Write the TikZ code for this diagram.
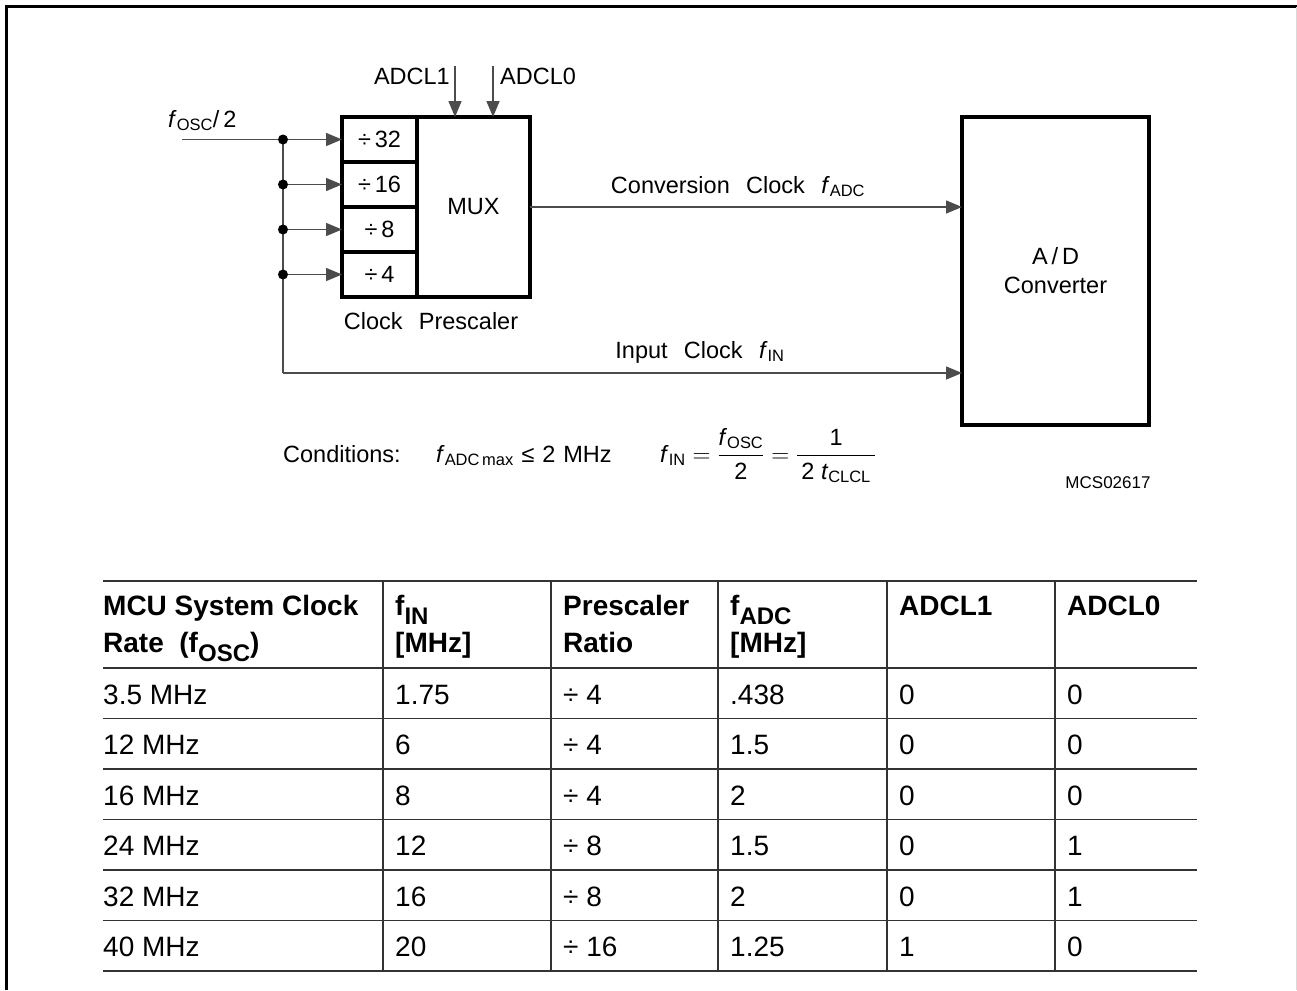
\documentclass[tikz,border=0pt]{standalone}
\usepackage{fontspec}
\usepackage{amsmath}
\setmainfont{Liberation Sans}
\newfontfamily\cadfont[WordSpace=2.5]{Liberation Sans}
\usetikzlibrary{positioning,arrows.meta,calc}

\newcommand{\cadsize}{\cadfont\fontsize{23.5}{29}\selectfont}
\newcommand{\tabsize}{\fontsize{28}{32}\selectfont}
\newcommand{\sig}[2]{\textit{#1}\textsubscript{#2}}
\newcommand{\tsub}[1]{\raisebox{-9pt}{\fontsize{24}{24}\selectfont #1}}

\begin{document}
\begin{tikzpicture}[x=1pt,y=-1pt,
    every node/.style={inner sep=0pt},
    thin line/.style={line width=1.5pt,black!70},
    sig/.style={thin line,-{Triangle[length=16pt,width=13pt]}},
    blockline/.style={draw,line width=4pt,outer sep=0pt},
    divcell/.style={blockline,minimum width=75pt,minimum height=45pt,font=\cadsize},
    lbl/.style={font=\cadsize},
    tabtxt/.style={font=\tabsize,anchor=base west},
    tabhead/.style={font=\tabsize\bfseries,anchor=base west},
    tabrule/.style={line width=1.5pt,black!80}]
  \useasboundingbox (0,0) rectangle (1297,990);

  % frame
  \draw[line width=3pt] (6,990) -- (6,7) -- (1297,7);
  \draw[line width=1pt,black!15] (1296,7) -- (1296,990);

  % clock prescaler
  \node[divcell] (div32) at (379.5,139.5) {÷\,32};
  \node[divcell,below=0pt of div32] (div16) {÷\,16};
  \node[divcell,below=0pt of div16] (div8) {÷\,8};
  \node[divcell,below=0pt of div8] (div4) {÷\,4};
  \node[blockline,minimum width=113pt,minimum height=180pt,anchor=north west,
        font=\cadsize] (mux) at (div32.north east) {MUX};
  \node[lbl,anchor=base] (prelbl) at (431,329) {Clock Prescaler};

  % A/D converter
  \node[blockline,minimum width=187pt,minimum height=308pt,align=center,
        font=\cadsize] (adc) at (1055.5,271) {A\,/\,D\\Converter};

  % input clock and taps
  \coordinate (oscin) at (182,139.5);
  \coordinate (busend) at (283,373);
  \node[lbl,anchor=base west] (osclbl) at (168,127) {\sig{f}{OSC}/\,2};
  \foreach \c [count=\n] in {div32,div16,div8,div4}
    \coordinate (tap\n) at (busend |- \c.west);
  \draw[thin line] (oscin) -- (tap1);
  \draw[thin line] (tap1) -- (busend);
  \foreach \c [count=\n] in {div32,div16,div8,div4}{
    \draw[sig] (tap\n) -- (\c.west);
    \fill (tap\n) circle (5pt);
  }
  \draw[sig] (busend) -- (busend -| adc.west);
  \node[lbl,anchor=base] (inlbl) at (700,358) {Input Clock \sig{f}{IN}};

  % conversion clock
  \draw[sig] (mux.east) -- (mux.east -| adc.west);
  \node[lbl,anchor=base] (convlbl) at (738,193) {Conversion Clock \sig{f}{ADC}};

  % select inputs
  \coordinate (adcl1) at (455,66);
  \coordinate (adcl0) at (493,66);
  \draw[sig] (adcl1) -- (adcl1 |- mux.north);
  \draw[sig] (adcl0) -- (adcl0 |- mux.north);
  \node[lbl,anchor=base east] (adcl1lbl) at (450,84) {ADCL1};
  \node[lbl,anchor=base west] (adcl0lbl) at (500,84) {ADCL0};

  % conditions
  \node[lbl,anchor=base west] (cond) at (283,462) {Conditions:};
  \node[lbl,anchor=base west] (fmax) at (436,462)
    {\sig{f}{ADC\,max}\,\,≤\,\,2\,\,MHz};
  \node[lbl,anchor=base west] (finrel) at (660,462)
    {$\text{\sig{f}{IN}}\;{=}\;\dfrac{\text{\sig{f}{OSC}}}{\text{2}}\;{=}\;
      \dfrac{\text{1}}{\text{\,2\;\sig{t}{CLCL}\,}}$};
  \node[font=\cadfont\fontsize{17}{19}\selectfont] (code) at (1108,483) {MCS02617};

  % table
  \foreach \y in {581,668,718.5,769,819.5,870,920.5,971}
    \draw[tabrule] (103,\y) -- (1197,\y);
  \foreach \x in {383,551,718,887,1055}
    \draw[tabrule] (\x,581) -- (\x,971);

  \node[tabhead] (h1a) at (103,615) {MCU System Clock};
  \node[tabhead] (h1b) at (103,652) {Rate\ \ (f\tsub{OSC})};
  \node[tabhead] (h2a) at (395,615) {f\tsub{IN}};
  \node[tabhead] (h2b) at (395,652) {[MHz]};
  \node[tabhead] (h3a) at (563,615) {Prescaler};
  \node[tabhead] (h3b) at (563,652) {Ratio};
  \node[tabhead] (h4a) at (730,615) {f\tsub{ADC}};
  \node[tabhead] (h4b) at (730,652) {[MHz]};
  \node[tabhead] (h5a) at (899,615) {ADCL1};
  \node[tabhead] (h6a) at (1067,615) {ADCL0};

  \foreach \ca/\cb/\cc/\cd/\ce/\cf [count=\i] in
      {3.5 MHz/1.75/4/.438/0/0, 12 MHz/6/4/1.5/0/0, 16 MHz/8/4/2/0/0,
       24 MHz/12/8/1.5/0/1, 32 MHz/16/8/2/0/1, 40 MHz/20/16/1.25/1/0}{
    \pgfmathsetmacro{\yb}{668+50.5*(\i-1)+36}
    \node[tabtxt] (rate\i) at (103,\yb) {\ca};
    \node[tabtxt] (fin\i) at (395,\yb) {\cb};
    \node[tabtxt] (ratio\i) at (563,\yb) {÷ \cc};
    \node[tabtxt] (fadc\i) at (730,\yb) {\cd};
    \node[tabtxt] (selhi\i) at (899,\yb) {\ce};
    \node[tabtxt] (sello\i) at (1067,\yb) {\cf};
  }
\end{tikzpicture}
\end{document}
